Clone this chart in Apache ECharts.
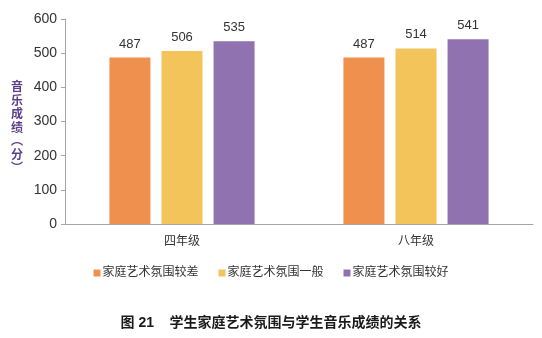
<!DOCTYPE html>
<html>
<head>
<meta charset="utf-8">
<script src="https://cdn.jsdelivr.net/npm/echarts@6/dist/echarts.min.js"></script>
<style>
  html, body { margin: 0; padding: 0; background: #fff; }
  #chart { width: 542px; height: 338px; }
</style>
</head>
<body>
<div id="chart"></div>
<script>
// Grades on the category axis
var grades = ['四年级', '八年级'];
// Series names (home art atmosphere level)
var seriesNames = ['家庭艺术氛围较差', '家庭艺术氛围一般', '家庭艺术氛围较好'];
// Mean music scores per grade
var scoresPoor = [487, 487];
var scoresAverage = [506, 514];
var scoresGood = [535, 541];
var seriesColors = ['#F0904F', '#F2C45A', '#9072B0'];

var valueSets = [scoresPoor, scoresAverage, scoresGood];
var font = '"Liberation Sans", Arial, "Noto Sans CJK SC", sans-serif';

var chart = echarts.init(document.getElementById('chart'));
chart.setOption({
  animation: false,
  textStyle: { fontFamily: font },
  title: {
    text: '图 21    学生家庭艺术氛围与学生音乐成绩的关系',
    left: 'center',
    top: 311,
    textStyle: { fontSize: 14, fontWeight: 'bold', color: '#1a1a1a', fontFamily: font }
  },
  legend: {
    data: seriesNames,
    top: 262,
    left: 'center',
    itemWidth: 7,
    itemHeight: 7,
    itemGap: 20,
    icon: 'rect',
    textStyle: { fontSize: 12, color: '#333', padding: [0, 0, 0, -3] }
  },
  grid: { left: 65, right: 9, top: 19, bottom: 114 },
  xAxis: {
    type: 'category',
    data: grades,
    axisLine: { lineStyle: { color: '#A6A6A6', width: 1 } },
    axisTick: { show: false },
    axisLabel: { color: '#333', fontSize: 12, margin: 12 }
  },
  yAxis: {
    type: 'value',
    min: 0,
    max: 600,
    interval: 100,
    // leading blank line nudges the stacked title slightly downward
    name: ' \n音\n乐\n成\n绩\n︵\n分\n︶',
    nameLocation: 'middle',
    nameGap: 42,
    nameRotate: 0,
    nameTextStyle: { color: '#5B3F8C', fontWeight: 'bold', fontSize: 12, lineHeight: 13.5 },
    axisLine: { show: true, lineStyle: { color: '#A6A6A6', width: 1 } },
    axisTick: { show: true, length: 4, lineStyle: { color: '#A6A6A6' } },
    axisLabel: { color: '#333', fontSize: 14, margin: 8 },
    splitLine: { show: false }
  },
  series: valueSets.map(function (vals, i) {
    return {
      name: seriesNames[i],
      type: 'bar',
      data: vals,
      barWidth: 41,
      barGap: '27%',
      itemStyle: { color: seriesColors[i] },
      label: { show: true, position: 'top', distance: 7, color: '#333', fontSize: 13 }
    };
  })
});
</script>
</body>
</html>
